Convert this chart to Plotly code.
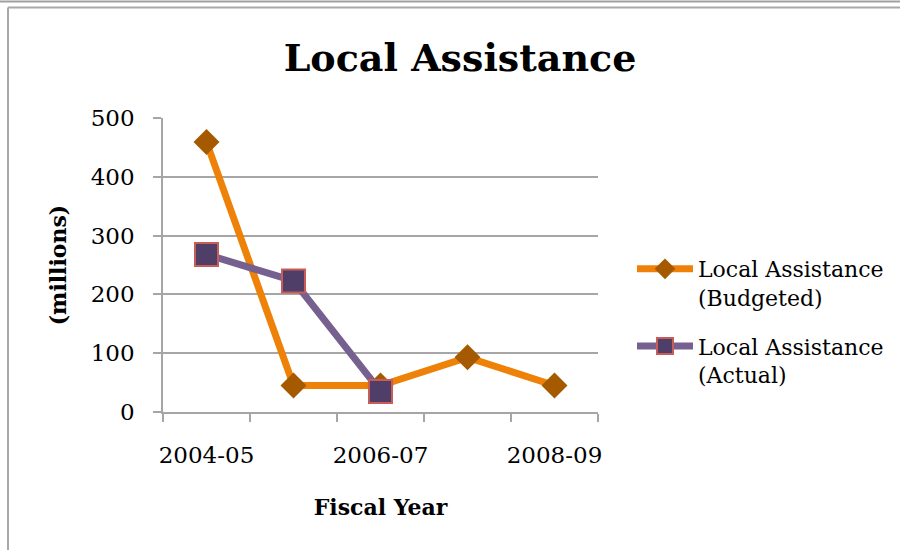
import plotly.graph_objects as go

categories = ["2004-05", "2005-06", "2006-07", "2007-08", "2008-09"]
budgeted = [459, 45, 45, 93, 45]
actual = [268, 223, 35]
tick_text = ["2004-05", "", "2006-07", "", "2008-09"]
y_ticks = [0, 100, 200, 300, 400, 500]

W, H = 900, 550
L, R, T, B = 163, 302, 118, 138
PW, PH = W - L - R, H - T - B

def px_x(px):
    return (px - L) / PW

def px_y(py):
    return (H - B - py) / PH

FONT = "DejaVu Serif"
GRID = "#A6A6A6"

fig = go.Figure()
fig.add_trace(go.Scatter(
    x=categories, y=budgeted, mode="lines+markers",
    name="Local Assistance<br>(Budgeted)", legendgroup="a",
    line=dict(color="#EE8208", width=7),
    marker=dict(symbol="diamond", size=20, color="#A65A00", line=dict(width=0)),
))
fig.add_trace(go.Scatter(
    x=categories[:len(actual)], y=actual, mode="lines+markers",
    name="Local Assistance<br>(Actual)", legendgroup="b",
    line=dict(color="#76608F", width=7),
    marker=dict(symbol="square", size=23, color="#4F3F68", line=dict(color="#C85C57", width=2)),
))

shapes = [
    dict(type="line", xref="paper", yref="paper", x0=px_x(0), x1=px_x(900), y0=px_y(1.5), y1=px_y(1.5),
         line=dict(color="#A0A0A0", width=2)),
    dict(type="line", xref="paper", yref="paper", x0=px_x(8), x1=px_x(900), y0=px_y(7.5), y1=px_y(7.5),
         line=dict(color="#A8A8A8", width=2)),
    dict(type="line", xref="paper", yref="paper", x0=px_x(8), x1=px_x(8), y0=px_y(7.5), y1=px_y(550),
         line=dict(color="#A8A8A8", width=2)),
]

fig.update_layout(
    width=W, height=H,
    margin=dict(l=L, r=R, t=T, b=B, autoexpand=False),
    paper_bgcolor="white", plot_bgcolor="white",
    font=dict(family=FONT, color="black", size=22),
    title=dict(text="<b>Local Assistance</b>", x=px_x(460), xref="paper", xanchor="center",
               y=1 - 58 / H, yref="container", yanchor="middle",
               font=dict(family=FONT, size=38, color="black")),
    showlegend=True,
    legend=dict(x=px_x(632), y=px_y(248), xanchor="left", yanchor="top",
                font=dict(family=FONT, size=22, color="black"),
                valign="top", itemwidth=56, tracegroupgap=17,
                bgcolor="rgba(0,0,0,0)"),
    shapes=shapes,
    xaxis=dict(
        type="category", categoryorder="array", categoryarray=categories,
        range=[-0.5, 4.5], tickson="boundaries",
        tickmode="array", tickvals=categories, ticktext=tick_text, tickangle=0,
        ticks="outside", ticklen=8, tickwidth=1.5, tickcolor=GRID,
        showline=True, linecolor=GRID, linewidth=1.5,
        showgrid=False, zeroline=False,
        tickfont=dict(family=FONT, size=23), ticklabelstandoff=22,
        title=dict(text="<b>Fiscal Year</b>", font=dict(family=FONT, size=22), standoff=32),
    ),
    yaxis=dict(
        range=[0, 500], tickmode="array", tickvals=y_ticks,
        ticks="outside", ticklen=8, tickwidth=1.5, tickcolor=GRID,
        showline=True, linecolor=GRID, linewidth=1.5,
        showgrid=True, gridcolor=GRID, gridwidth=1.5, zeroline=False,
        tickfont=dict(family=FONT, size=23), ticklabelstandoff=14,
        title=dict(text="<b>(millions)</b>", font=dict(family=FONT, size=22), standoff=18),
    ),
)

fig.write_html("out.html", config={"displayModeBar": False},
               post_script="document.body.style.margin='0';document.body.style.overflow='hidden';")
